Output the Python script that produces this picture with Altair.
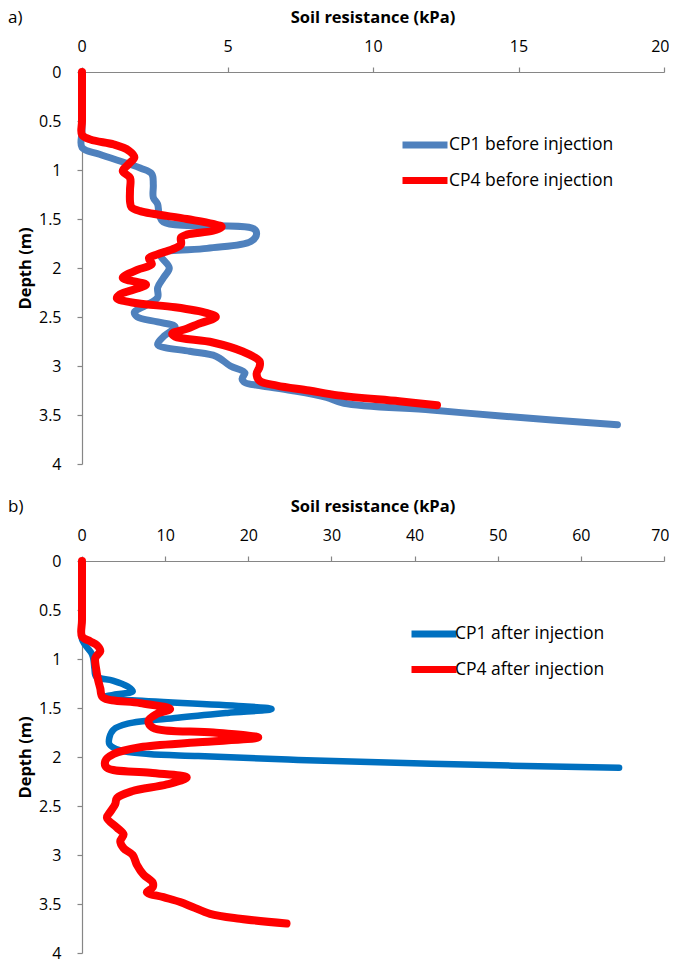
import altair as alt
import pandas as pd

FONT = "Open Sans"

# ---- panel a) before injection ----
a_cp1_depth = [0, 0.6, 0.77, 0.84, 0.98, 1.04, 1.15, 1.28, 1.35, 1.45, 1.53, 1.6, 1.65, 1.73, 1.8, 1.86, 2.0, 2.1,
               2.2, 2.3, 2.38, 2.45, 2.5, 2.55, 2.6, 2.7, 2.78, 2.85, 2.9, 3.0, 3.07, 3.13, 3.17, 3.2, 3.25,
               3.32, 3.38, 3.45, 3.51, 3.6]
a_cp1_val = [0, 0, 0, 0.6, 2.0, 2.4, 2.45, 2.45, 2.6, 2.65, 2.8, 5.9, 6.0, 5.8, 4.3, 2.7, 3.0, 2.8,
             2.6, 2.6, 2.2, 1.8, 1.9, 2.6, 3.2, 2.8, 2.6, 3.7, 4.6, 5.1, 5.6, 5.5, 5.6, 6.1, 7.2,
             8.4, 9.0, 12.0, 14.4, 18.4]
a_cp4_depth = [0, 0.5, 0.64, 0.69, 0.74, 0.8, 0.87, 0.94, 1.01, 1.08, 1.2, 1.32, 1.38, 1.42, 1.5, 1.55, 1.58,
               1.62, 1.66, 1.69, 1.76, 1.81, 1.86, 1.9, 1.96, 2.02, 2.1, 2.17, 2.2, 2.27, 2.31, 2.36, 2.4,
               2.46, 2.5, 2.57, 2.62, 2.67, 2.7, 2.76, 2.85, 2.95, 3.01, 3.08, 3.15, 3.2, 3.25, 3.3, 3.36, 3.4]
a_cp4_val = [0, 0, 0, 0.3, 1.1, 1.6, 1.8, 1.6, 1.4, 1.65, 1.65, 1.65, 1.7, 2.0, 3.6, 4.5, 4.8,
             4.5, 3.6, 3.4, 3.4, 3.1, 2.6, 2.3, 2.4, 1.9, 1.4, 2.2, 2.0, 1.3, 1.2, 1.9, 3.2,
             4.3, 4.6, 4.0, 3.6, 3.1, 3.2, 4.5, 5.5, 6.1, 6.1, 6.0, 6.1, 6.7, 7.8, 8.8, 10.9, 12.2]

# ---- panel b) after injection ----
b_cp1_depth = [0, 0.6, 0.8, 0.95, 1.02, 1.1, 1.18, 1.22, 1.28, 1.33, 1.36, 1.39, 1.51, 1.55, 1.6, 1.66, 1.72,
               1.8, 1.87, 1.93, 1.97, 1.99, 2.03, 2.07, 2.11]
b_cp1_val = [0, 0, 0, 1.2, 1.4, 1.5, 1.7, 3.7, 5.5, 6.1, 4.2, 2.6, 22.8, 17.5, 11.5, 5.5, 3.8,
             3.3, 3.3, 4.5, 8.0, 14.0, 26.0, 42.0, 64.6]
b_cp4_depth = [0, 0.6, 0.77, 0.82, 0.86, 0.92, 0.99, 1.1, 1.2, 1.3, 1.39, 1.45, 1.51, 1.56, 1.63, 1.7, 1.75,
               1.8, 1.85, 1.9, 1.97, 2.04, 2.11, 2.16, 2.21, 2.28, 2.35, 2.42, 2.48, 2.56, 2.62, 2.72,
               2.79, 2.86, 2.93, 3.0, 3.1, 3.2, 3.28, 3.33, 3.38, 3.43, 3.48, 3.53, 3.6, 3.65, 3.7]
b_cp4_val = [0, 0, 0, 1.0, 1.8, 2.2, 1.6, 1.7, 1.9, 2.2, 2.5, 7.0, 10.6, 9.0, 8.0, 8.5, 15.8,
             21.2, 14.0, 7.0, 3.8, 2.8, 3.0, 8.2, 12.6, 10.2, 6.0, 4.2, 4.0, 3.4, 3.0, 4.2,
             5.0, 4.6, 5.0, 6.1, 6.6, 7.4, 8.5, 8.5, 7.8, 9.8, 11.8, 13.3, 15.4, 19.0, 24.6]

a_names = ["CP1 before injection", "CP4 before injection"]
b_names = ["CP1 after injection", "CP4 after injection"]
a_colors = ["#4F81BD", "#FF0000"]
b_colors = ["#0070C0", "#FF0000"]

depth_ticks = [0, 0.5, 1, 1.5, 2, 2.5, 3, 3.5, 4]
a_xticks = [0, 5, 10, 15, 20]
b_xticks = [0, 10, 20, 30, 40, 50, 60, 70]
x_title = "Soil resistance (kPa)"

W, H = 582, 392


def frame(name, depths, vals):
    return pd.DataFrame({"series": name, "depth": depths, "val": vals, "i": range(len(vals))})


def panel(label, names, colors, series, xmax, xticks, widths, lx, ly, loff):
    scale = alt.Scale(domain=names, range=colors)
    legend = alt.Legend(orient="none", legendX=lx, legendY=ly, title=None,
                        symbolType="M-2,0H2", symbolSize=506, symbolStrokeWidth=7,
                        labelFont=FONT, labelFontSize=17.5, labelColor="black", labelLimit=400,
                        labelOffset=loff, rowPadding=6.5, padding=0)
    x = alt.X("val:Q", scale=alt.Scale(domain=[0, xmax], nice=False),
              axis=alt.Axis(orient="top", values=xticks, title=None,
                            labelFlush=True, labelFlushOffset=5, labelPadding=13))
    y = alt.Y("depth:Q", scale=alt.Scale(domain=[0, 4], reverse=True, nice=False),
              axis=alt.Axis(values=depth_ticks, format="~g", title="Depth (m)",
                            labelPadding=16, titlePadding=5))
    layers = []
    for (name, d, v), w in zip(series, widths):
        layers.append(
            alt.Chart(frame(name, d, v)).mark_line(
                strokeWidth=w, strokeCap="round", strokeJoin="round", interpolate="catmull-rom"
            ).encode(x=x, y=y, order="i:Q",
                     color=alt.Color("series:N", scale=scale, legend=legend))
        )
    lab = alt.Chart(pd.DataFrame({"t": [label]})).mark_text(
        align="left", baseline="middle", font=FONT, fontSize=17, color="black"
    ).encode(text="t:N", x=alt.value(-74), y=alt.value(-54))
    ttl = alt.Chart(pd.DataFrame({"t": [x_title]})).mark_text(
        align="center", baseline="middle", font=FONT, fontSize=16.5, fontWeight="bold", color="black"
    ).encode(text="t:N", x=alt.value(W / 2), y=alt.value(-54))
    return alt.layer(*layers, lab, ttl).properties(width=W, height=H)


top = panel("a)", a_names, a_colors,
            [(a_names[0], a_cp1_depth, a_cp1_val), (a_names[1], a_cp4_depth, a_cp4_val)],
            20, a_xticks, [7, 8], 328, 58, 9)
bottom = panel("b)", b_names, b_colors,
               [(b_names[0], b_cp1_depth, b_cp1_val), (b_names[1], b_cp4_depth, b_cp4_val)],
               70, b_xticks, [6.5, 8], 337, 58, 6)

chart = alt.vconcat(top, bottom, spacing=26).resolve_scale(color="independent").properties(
    padding={"left": 0, "top": 1, "right": 0, "bottom": 0}
).configure_view(stroke=None).configure_axis(
    grid=False, domainColor="#868686", tickColor="#868686", domainWidth=1.2, tickWidth=1.2,
    tickSize=5, labelFont=FONT, labelFontSize=16, labelColor="black",
    titleFont=FONT, titleFontSize=16.5, titleFontWeight="bold", titleColor="black"
)

chart.save("out.html", embed_options={"renderer": "svg", "actions": False})
